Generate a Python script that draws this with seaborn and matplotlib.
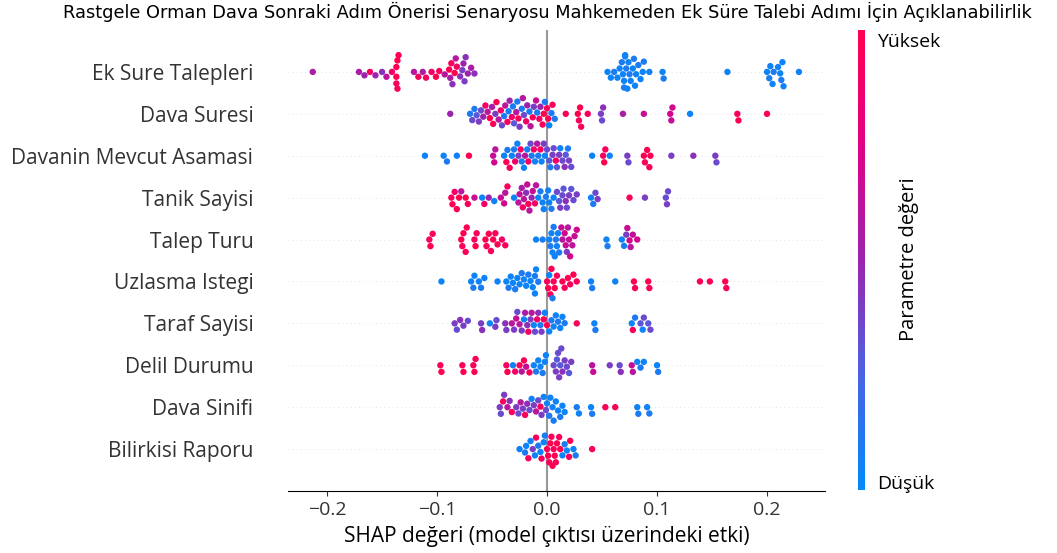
import pandas as pd
import matplotlib
matplotlib.use("Agg")
import matplotlib.pyplot as plt
import seaborn as sns
from matplotlib.colors import LinearSegmentedColormap
from matplotlib.cm import ScalarMappable

# --------------------------------------------------------------
# SHAP degerleri (x) ve normalize parametre degerleri (renk, 0-1)
# --------------------------------------------------------------
features = ["Ek Sure Talepleri", "Dava Suresi", "Davanin Mevcut Asamasi",
            "Tanik Sayisi", "Talep Turu", "Uzlasma Istegi", "Taraf Sayisi",
            "Delil Durumu", "Dava Sinifi", "Bilirkisi Raporu"]

ek_sure_shap = [-0.213, -0.171, -0.166, -0.161, -0.156, -0.150, -0.146, -0.141,
                -0.137, -0.137, -0.136, -0.136, -0.135, -0.137, -0.121, -0.117,
                -0.113, -0.110, -0.105, -0.101, -0.098, -0.093, -0.089, -0.088,
                -0.087, -0.086, -0.084, -0.083, -0.082, -0.079, -0.077, -0.076,
                -0.075, -0.074, -0.072, -0.069, -0.066,
                0.055, 0.058, 0.061, 0.064, 0.066, 0.068, 0.069, 0.070, 0.070,
                0.071, 0.071, 0.072, 0.073, 0.074, 0.075, 0.076, 0.078, 0.079,
                0.080, 0.081, 0.083, 0.085, 0.087, 0.088, 0.093, 0.105, 0.106,
                0.164, 0.200, 0.202, 0.203, 0.205, 0.206, 0.210, 0.212, 0.213,
                0.214, 0.215, 0.229]
ek_sure_val = [0.55, 0.55, 0.5, 0.95, 0.5, 0.45, 0.6, 0.9,
               1.0, 1.0, 1.0, 0.95, 1.0, 0.95, 0.6, 0.95,
               0.55, 0.95, 0.9, 1.0, 0.95, 0.6, 1.0, 0.55,
               0.95, 0.45, 1.0, 0.6, 0.9, 0.45, 0.4, 0.5,
               0.4, 0.45, 0.5, 0.55, 0.45,
               0.05, 0.05, 0.1, 0.05, 0.05, 0.1, 0.05, 0.05, 0.1,
               0.05, 0.05, 0.1, 0.05, 0.05, 0.1, 0.05, 0.05, 0.1,
               0.05, 0.05, 0.1, 0.05, 0.05, 0.1, 0.05, 0.05, 0.1,
               0.05, 0.05, 0.1, 0.05, 0.05, 0.1, 0.05, 0.05, 0.1,
               0.05, 0.05, 0.05]

dava_suresi_shap = [-0.088, -0.070, -0.068, -0.066, -0.064, -0.062, -0.060, -0.058,
                    -0.056, -0.054, -0.052, -0.050, -0.049, -0.047, -0.046, -0.044,
                    -0.042, -0.041, -0.039, -0.038, -0.036, -0.035, -0.034, -0.032,
                    -0.031, -0.030, -0.028, -0.027, -0.026, -0.025, -0.023, -0.022,
                    -0.021, -0.019, -0.018, -0.016, -0.015, -0.013, -0.012, -0.010,
                    -0.009, -0.007, -0.006, -0.004, -0.003, -0.002, 0.000, 0.001,
                    0.002, 0.004, 0.005, 0.007, 0.017, 0.028, 0.029, 0.030,
                    0.031, 0.037, 0.049, 0.050, 0.051, 0.069, 0.088, 0.112,
                    0.113, 0.114, 0.130, 0.173, 0.174, 0.200]
dava_suresi_val = [0.5, 0.1, 0.35, 0.1, 0.3, 0.4, 0.35, 0.5,
                   0.9, 0.6, 1.0, 0.55, 0.95, 0.4, 1.0, 0.6,
                   0.9, 0.35, 0.1, 0.6, 0.95, 0.1, 0.5, 0.9,
                   0.1, 0.3, 0.6, 0.1, 0.95, 0.4, 0.1, 0.6,
                   0.35, 0.9, 0.5, 0.1, 0.6, 0.95, 0.4, 0.65,
                   0.1, 0.9, 0.5, 0.95, 1.0, 0.1, 0.95, 1.0,
                   0.05, 0.1, 0.95, 0.1, 0.95, 1.0, 0.95, 1.0,
                   0.95, 0.95, 0.4, 0.35, 0.45, 0.55, 0.65, 0.7,
                   0.65, 0.7, 0.05, 0.95, 1.0, 0.95]

asama_shap = [-0.111, -0.094, -0.091, -0.082, -0.071, -0.049, -0.048, -0.047,
              -0.039, -0.037, -0.036, -0.034, -0.032, -0.030, -0.029, -0.027,
              -0.026, -0.024, -0.023, -0.021, -0.020, -0.018, -0.017, -0.015,
              -0.014, -0.012, -0.011, -0.009, -0.008, -0.006, -0.005, -0.003,
              -0.002, 0.000, 0.002, 0.003, 0.005, 0.006, 0.008, 0.009,
              0.011, 0.012, 0.014, 0.016, 0.017, 0.019, 0.020, 0.022,
              0.041, 0.051, 0.052, 0.053, 0.057, 0.073, 0.074, 0.088,
              0.089, 0.091, 0.093, 0.094, 0.113, 0.133, 0.153, 0.154]
asama_val = [0.05, 0.05, 0.1, 0.05, 1.0, 0.65, 0.7, 0.6,
             0.05, 1.0, 0.1, 0.95, 0.05, 0.1, 0.9, 0.05,
             0.4, 0.95, 0.1, 0.05, 0.6, 0.05, 0.95, 0.35,
             0.1, 0.9, 0.05, 0.6, 0.1, 0.95, 0.05, 0.4,
             0.05, 0.35, 0.3, 0.1, 0.4, 0.35, 0.9, 0.3,
             0.4, 0.05, 0.35, 0.45, 0.3, 0.1, 0.4, 0.35,
             0.05, 0.95, 1.0, 0.95, 0.05, 0.4, 0.35, 1.0,
             0.95, 1.0, 0.95, 1.0, 0.4, 0.45, 0.4, 0.35]

tanik_shap = [-0.087, -0.086, -0.084, -0.082, -0.080, -0.078, -0.074, -0.072,
              -0.066, -0.059, -0.057, -0.053, -0.048, -0.042, -0.039, -0.038,
              -0.036, -0.030, -0.026, -0.025, -0.023, -0.022, -0.021, -0.019,
              -0.018, -0.017, -0.016, -0.014, -0.013, -0.011, -0.010, -0.008,
              -0.006, -0.004, -0.003, -0.001, 0.001, 0.002, 0.004, 0.006,
              0.009, 0.011, 0.012, 0.014, 0.015, 0.017, 0.018, 0.020,
              0.022, 0.024, 0.027, 0.040, 0.042, 0.044, 0.046, 0.075,
              0.089, 0.108, 0.109, 0.110]
tanik_val = [0.95, 1.0, 0.9, 0.95, 1.0, 0.6, 1.0, 0.95,
             0.65, 0.05, 0.9, 0.5, 0.05, 0.65, 0.7, 0.6,
             0.95, 0.05, 0.6, 0.65, 0.55, 0.9, 0.6, 0.45,
             0.65, 0.95, 0.6, 0.5, 0.65, 0.9, 0.6, 0.05,
             0.1, 0.05, 0.05, 0.1, 0.05, 0.05, 0.1, 0.05,
             0.35, 0.3, 0.4, 0.35, 0.3, 0.45, 0.35, 0.4,
             0.3, 0.35, 0.4, 0.05, 0.1, 0.35, 0.4, 0.95,
             0.4, 0.35, 0.4, 0.35]

talep_shap = [-0.107, -0.106, -0.104, -0.078, -0.077, -0.076, -0.074, -0.073,
              -0.066, -0.065, -0.064, -0.056, -0.055, -0.053, -0.051, -0.049,
              -0.047, -0.045, -0.041, -0.038, -0.010, -0.004, 0.002, 0.003,
              0.004, 0.005, 0.006, 0.007, 0.008, 0.009, 0.010, 0.011,
              0.013, 0.014, 0.016, 0.017, 0.018, 0.019, 0.020, 0.021,
              0.023, 0.025, 0.027, 0.054, 0.055, 0.068, 0.070, 0.072,
              0.073, 0.075, 0.076, 0.078, 0.082]
talep_val = [0.95, 1.0, 0.95, 1.0, 0.95, 1.0, 0.95, 1.0,
             0.95, 1.0, 0.95, 1.0, 0.95, 1.0, 0.95, 1.0,
             0.95, 1.0, 0.9, 0.95, 0.05, 0.1, 0.05, 0.1,
             0.05, 0.05, 0.1, 0.05, 0.1, 0.05, 0.05, 0.1,
             0.65, 0.6, 0.7, 0.65, 0.4, 0.6, 0.65, 0.7,
             0.6, 0.65, 0.7, 0.05, 0.1, 0.05, 0.1, 0.4,
             0.65, 0.7, 0.6, 0.65, 0.7]

uzlasma_shap = [-0.096, -0.069, -0.067, -0.066, -0.062, -0.060, -0.057, -0.045,
                -0.037, -0.035, -0.033, -0.031, -0.029, -0.027, -0.025, -0.023,
                -0.021, -0.019, -0.017, -0.015, -0.013, -0.011, -0.011, -0.010,
                -0.008, 0.000, 0.001, 0.002, 0.003, 0.004, 0.005, 0.006,
                0.007, 0.009, 0.014, 0.016, 0.019, 0.021, 0.024, 0.027,
                0.040, 0.041, 0.062, 0.079, 0.080, 0.092, 0.093, 0.139,
                0.148, 0.162, 0.163]
uzlasma_val = [0.05, 0.05, 0.1, 0.05, 0.05, 0.1, 0.05, 0.05,
               0.05, 0.1, 0.05, 0.05, 0.1, 0.05, 0.05, 0.1,
               0.05, 0.05, 0.1, 0.05, 0.05, 0.1, 0.05, 0.05,
               0.1, 0.95, 1.0, 0.05, 0.95, 1.0, 0.1, 0.95,
               1.0, 0.95, 1.0, 0.95, 1.0, 0.95, 1.0, 0.95,
               0.05, 0.1, 0.05, 1.0, 0.95, 1.0, 0.95, 1.0,
               0.95, 1.0, 0.95]

taraf_shap = [-0.084, -0.082, -0.079, -0.076, -0.072, -0.060, -0.059, -0.052,
              -0.047, -0.046, -0.038, -0.037, -0.032, -0.030, -0.028, -0.027,
              -0.025, -0.023, -0.021, -0.020, -0.018, -0.017, -0.015, -0.014,
              -0.012, -0.011, -0.009, -0.008, -0.006, -0.005, -0.003, -0.002,
              0.000, 0.002, 0.004, 0.006, 0.008, 0.010, 0.012, 0.014,
              0.016, 0.027, 0.043, 0.044, 0.077, 0.078, 0.080, 0.085,
              0.087, 0.088, 0.092, 0.094]
taraf_val = [0.4, 0.35, 0.45, 0.4, 0.35, 0.4, 0.45, 0.05,
             0.4, 0.35, 0.45, 0.4, 0.6, 0.4, 0.65, 0.35,
             0.6, 0.4, 0.05, 0.55, 0.45, 0.95, 0.4, 0.6,
             0.05, 0.35, 0.9, 0.45, 0.1, 0.4, 0.95, 0.05,
             1.0, 0.05, 0.1, 0.05, 0.05, 0.1, 0.05, 0.05,
             0.1, 0.95, 0.05, 0.1, 0.05, 0.95, 0.1, 0.3,
             0.05, 0.35, 0.3, 0.35]

delil_shap = [-0.097, -0.096, -0.077, -0.076, -0.067, -0.066, -0.065, -0.037,
              -0.036, -0.031, -0.029, -0.025, -0.023, -0.021, -0.019, -0.016,
              -0.012, -0.010, -0.008, -0.006, -0.004, -0.002, -0.001, 0.006,
              0.008, 0.009, 0.010, 0.011, 0.012, 0.013, 0.014, 0.016,
              0.018, 0.020, 0.022, 0.041, 0.042, 0.057, 0.066, 0.067,
              0.077, 0.078, 0.082, 0.085, 0.088, 0.100, 0.101]
delil_val = [0.95, 1.0, 0.95, 1.0, 0.95, 1.0, 0.95, 0.95,
             1.0, 0.05, 0.9, 0.95, 0.6, 1.0, 0.65, 0.95,
             0.05, 0.1, 0.05, 0.05, 0.1, 0.05, 0.05, 0.35,
             0.4, 0.3, 0.35, 0.4, 0.3, 0.35, 0.45, 0.4,
             0.35, 0.3, 0.4, 0.6, 0.65, 0.4, 0.35, 0.45,
             0.65, 0.6, 0.05, 0.1, 0.05, 0.05, 0.1]

sinif_shap = [-0.043, -0.042, -0.040, -0.039, -0.036, -0.034, -0.032, -0.028,
              -0.026, -0.024, -0.022, -0.020, -0.018, -0.016, -0.014, -0.012,
              -0.010, -0.008, -0.006, -0.005, -0.003, -0.001, 0.000, 0.002,
              0.003, 0.005, 0.006, 0.008, 0.010, 0.012, 0.014, 0.016,
              0.027, 0.029, 0.040, 0.041, 0.053, 0.062, 0.082, 0.083,
              0.091, 0.093]
sinif_val = [0.4, 0.35, 0.95, 0.4, 0.6, 0.45, 0.95, 0.4,
             0.35, 0.6, 0.4, 0.95, 0.45, 0.35, 0.05, 0.4,
             0.6, 0.35, 0.95, 0.4, 0.05, 0.35, 0.05, 0.1,
             0.05, 0.05, 0.1, 0.05, 0.05, 0.1, 0.05, 0.05,
             0.1, 0.05, 0.05, 0.1, 0.95, 0.95, 0.05, 0.1,
             0.05, 0.1]

bilirkisi_shap = [-0.025, -0.020, -0.019, -0.017, -0.015, -0.013, -0.011, -0.010,
                  -0.008, -0.006, -0.005, -0.003, -0.002, 0.000, 0.001, 0.002,
                  0.003, 0.004, 0.005, 0.006, 0.007, 0.008, 0.009, 0.011,
                  0.012, 0.014, 0.016, 0.018, 0.020, 0.021, 0.024, 0.026,
                  0.041]
bilirkisi_val = [0.05, 0.1, 0.05, 0.95, 0.05, 0.4, 0.05, 0.95,
                 0.1, 0.05, 0.95, 0.05, 0.1, 0.95, 1.0, 0.95,
                 1.0, 0.95, 1.0, 0.95, 1.0, 0.95, 1.0, 0.95,
                 1.0, 0.05, 0.1, 0.05, 0.95, 1.0, 0.05, 0.1,
                 0.95]

shap_lists = [ek_sure_shap, dava_suresi_shap, asama_shap, tanik_shap, talep_shap,
              uzlasma_shap, taraf_shap, delil_shap, sinif_shap, bilirkisi_shap]
val_lists = [ek_sure_val, dava_suresi_val, asama_val, tanik_val, talep_val,
             uzlasma_val, taraf_val, delil_val, sinif_val, bilirkisi_val]

rows = []
for name, s_list, v_list in zip(features, shap_lists, val_lists):
    for s, v in zip(s_list, v_list):
        rows.append({"feature": name, "shap": s, "value": v})
df = pd.DataFrame(rows)

# shap "red_blue" renk haritasina yakin
red_blue = LinearSegmentedColormap.from_list(
    "red_blue", ["#008afb", "#4a63e4", "#9b24ad", "#e00086", "#ff0051"])

axis_color = "#333333"
label_font = ["Open Sans", "DejaVu Sans"]

fig = plt.figure(figsize=(10.57, 5.53), dpi=100)
ax = fig.add_axes([288 / 1057, 1 - 491 / 553, (825 - 288) / 1057, (491 - 30) / 553])

for i in range(len(features)):
    ax.axhline(i, color="#cccccc", lw=0.5, dashes=(1, 5), zorder=-1)
ax.axvline(0, color="#999999", zorder=-1)

sns.swarmplot(data=df, x="shap", y="feature", hue="value", order=features,
              palette=red_blue, hue_norm=(0, 1), size=4.6, linewidth=0,
              legend=False, orient="h", ax=ax, zorder=3)

ax.set_xlim(-0.2355, 0.2527)
ax.set_ylim(10, -1)
ax.set_xticks([-0.2, -0.1, 0.0, 0.1, 0.2])
for side in ["left", "top", "right"]:
    ax.spines[side].set_visible(False)
ax.tick_params(color=axis_color, labelcolor=axis_color)
ax.tick_params("y", length=0, pad=25)
ax.tick_params("x", labelsize=14)
for lbl in ax.get_yticklabels():
    lbl.set_fontfamily(label_font)
    lbl.set_fontsize(15)
for lbl in ax.get_xticklabels():
    lbl.set_fontfamily(label_font)
ax.set_ylabel("")
ax.set_xlabel("SHAP değeri (model çıktısı üzerindeki etki)", fontsize=15,
              family=label_font, color="black")
ax.xaxis.set_label_coords((547 - 288) / 537, -0.075)

fig.text(547 / 1057, 1 - 12 / 553,
         "Rastgele Orman Dava Sonraki Adım Önerisi Senaryosu Mahkemeden Ek Süre Talebi Adımı İçin Açıklanabilirlik",
         ha="center", va="center", fontsize=12.8)

# renk cubugu
cax = fig.add_axes([858 / 1057, 1 - 490 / 553, 7 / 1057, 460 / 553])
sm = ScalarMappable(cmap=red_blue, norm=plt.Normalize(0, 1))
cb = fig.colorbar(sm, cax=cax)
cb.outline.set_visible(False)
cb.set_ticks([0.018, 0.978])
cb.set_ticklabels(["Düşük", "Yüksek"])
cax.tick_params(length=0, pad=9, labelsize=14)
for lbl in cax.get_yticklabels():
    lbl.set_fontfamily(label_font)
fig.text(909 / 1057, 1 - 259 / 553, "Parametre değeri", rotation=90,
         ha="center", va="center", fontsize=14.5, family=label_font)

plt.savefig("out.png", dpi=100)
